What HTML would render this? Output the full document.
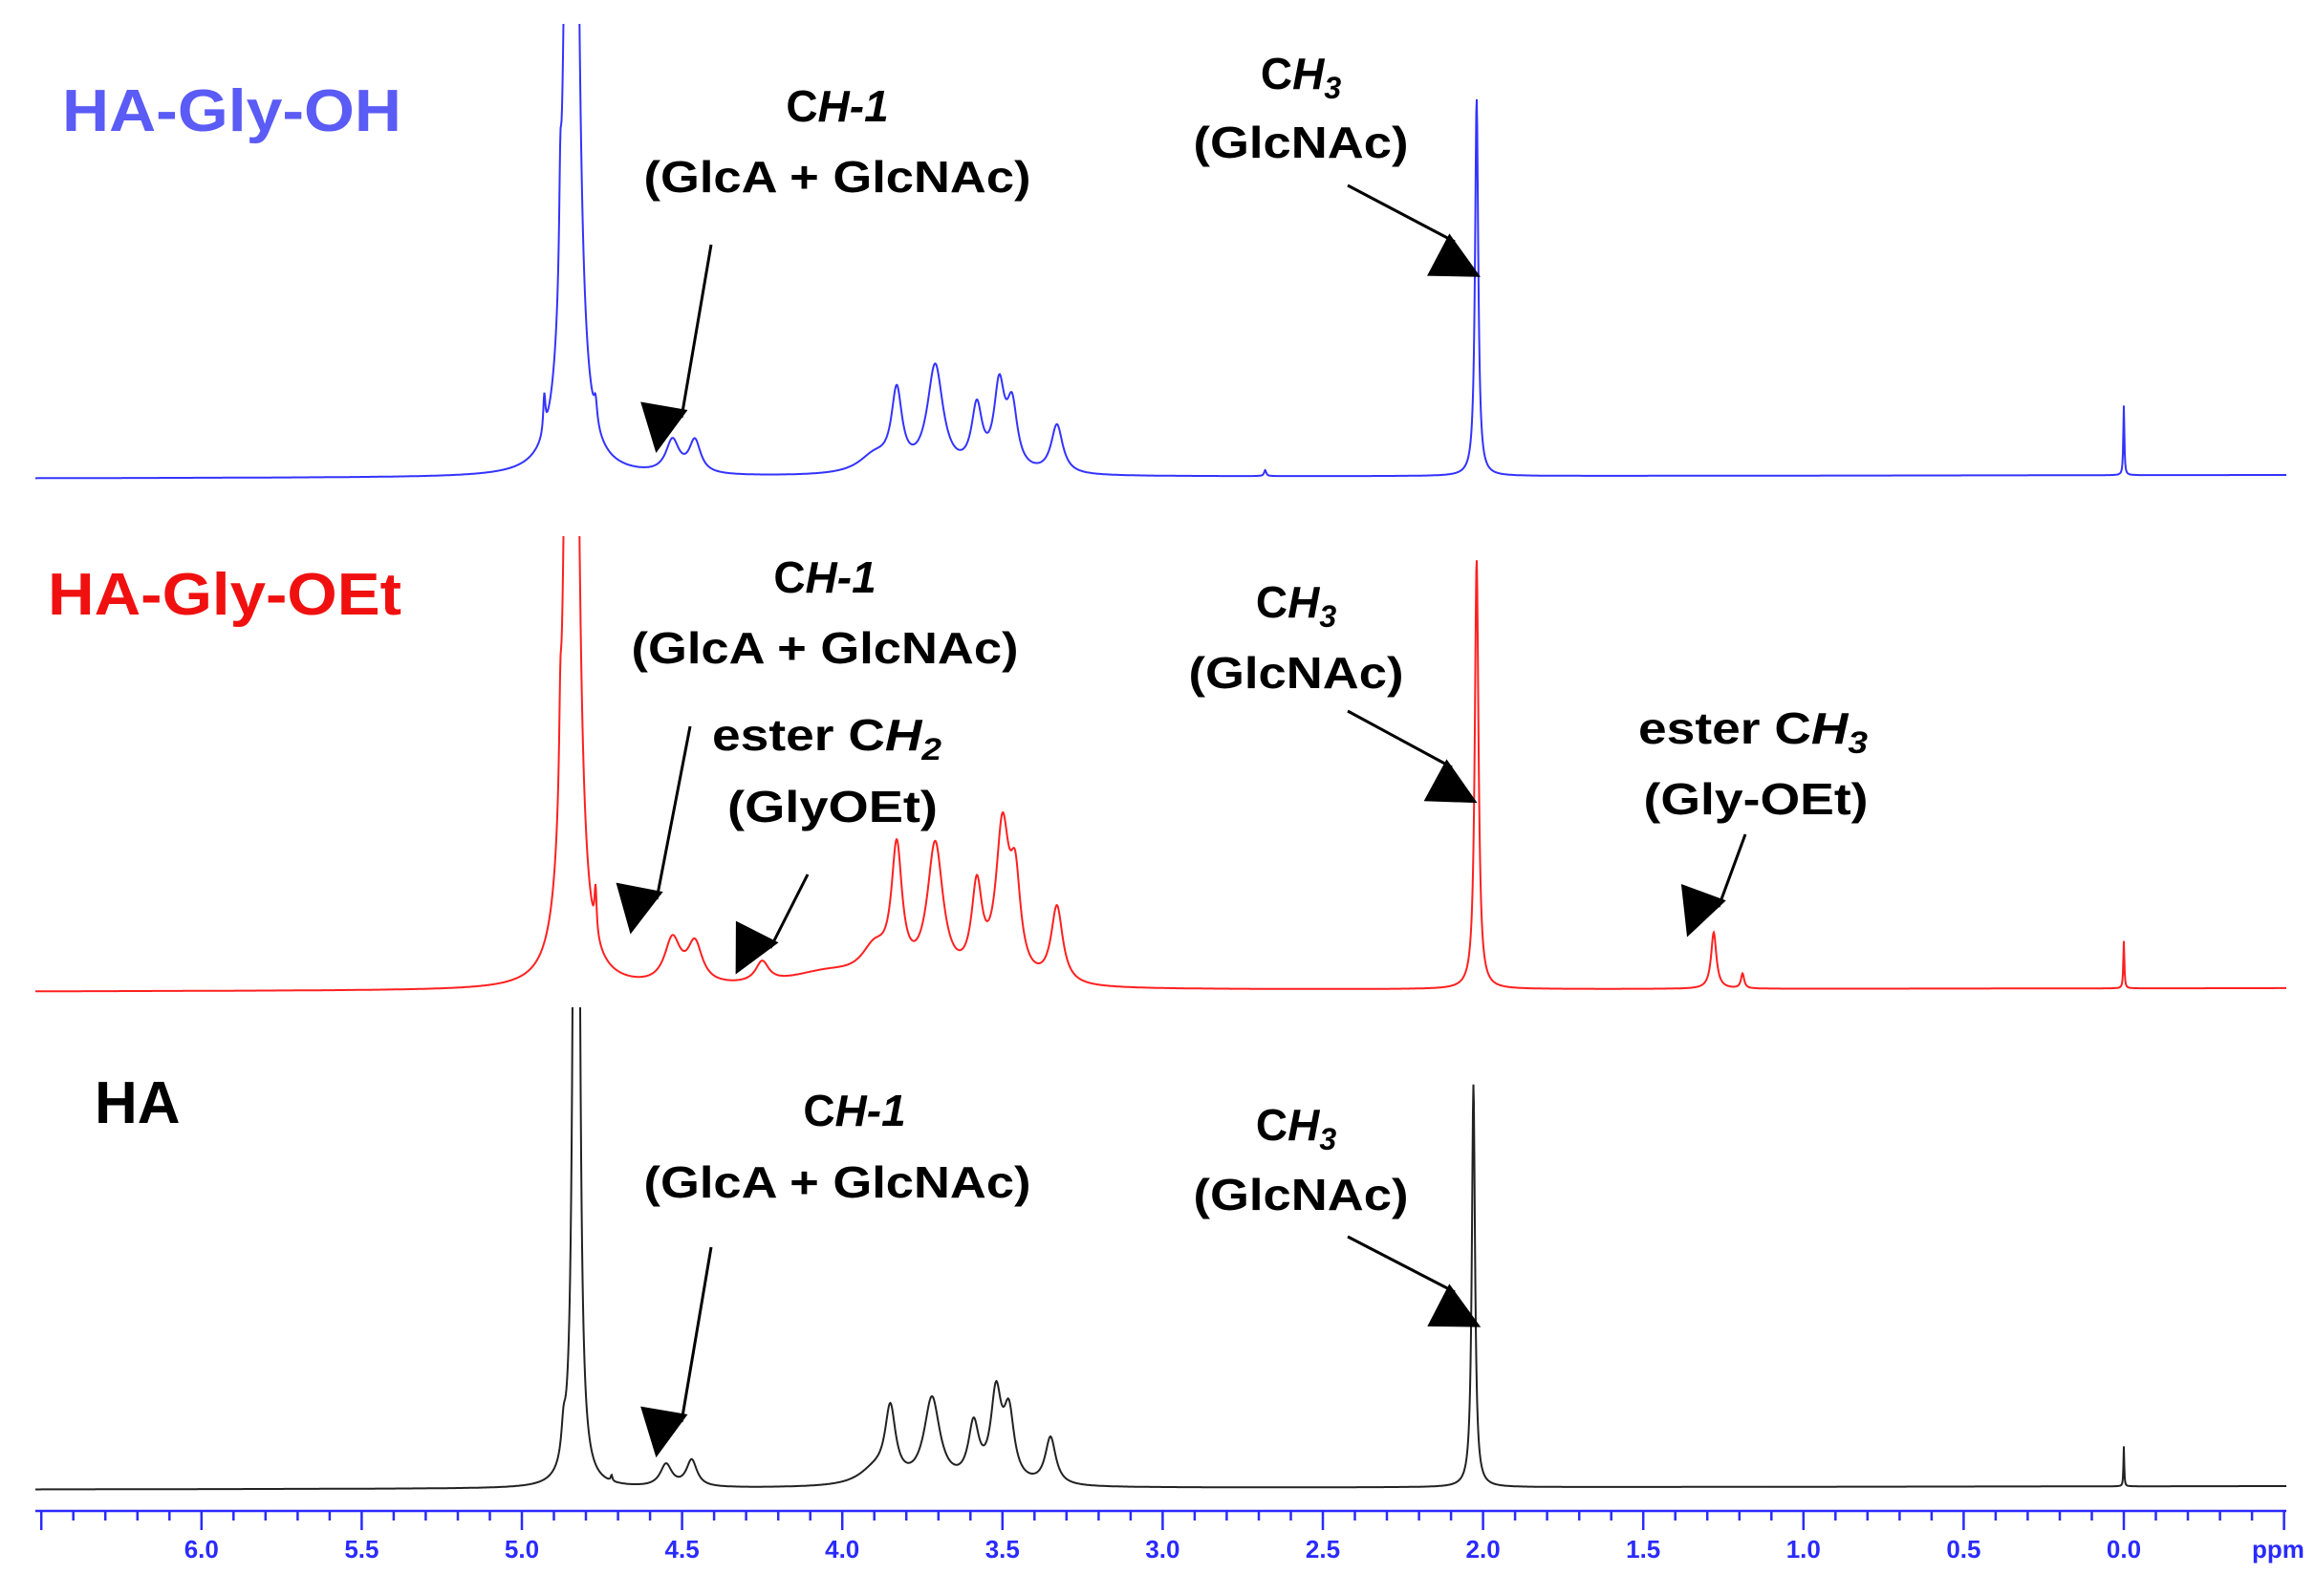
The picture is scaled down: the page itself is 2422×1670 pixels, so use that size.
<!DOCTYPE html>
<html><head><meta charset="utf-8"><style>
html,body{margin:0;padding:0;background:#fff;}
svg{display:block;}
text{font-family:"Liberation Sans",sans-serif;font-weight:bold;}
</style></head><body>
<svg id="chart" width="2422" height="1670" viewBox="0 0 2422 1670">
<defs>
<marker id="ah" markerWidth="10" markerHeight="10" refX="9" refY="5" orient="auto" markerUnits="userSpaceOnUse" viewBox="0 0 10 10" style="overflow:visible">
<path d="M0,0 L10,5 L0,10 z" fill="#000" transform="scale(5)"/>
</marker>
<clipPath id="clipBlue"><rect x="0" y="25" width="2422" height="540"/></clipPath>
<clipPath id="clipRed"><rect x="0" y="561" width="2422" height="500"/></clipPath>
<clipPath id="clipBlack"><rect x="0" y="1054" width="2422" height="520"/></clipPath>
</defs>
<g id="spectra"></g>
<g id="axis"></g>
<g id="labels">
<text x="65" y="137" font-size="62" fill="#5b5bf5" textLength="355" lengthAdjust="spacingAndGlyphs">HA-Gly-OH</text>
<text x="50" y="643" font-size="62" fill="#f01010" textLength="370" lengthAdjust="spacingAndGlyphs">HA-Gly-OEt</text>
<text x="99" y="1175" font-size="62" fill="#000">HA</text>
</g>
<g id="annot" fill="#000" font-size="46" text-anchor="middle"></g>
</svg>
<script>
// ppm axis mapping
const ppmTicks = ["6.0","5.5","5.0","4.5","4.0","3.5","3.0","2.5","2.0","1.5","1.0","0.5","0.0"];
const tickValues = [6.0,5.5,5.0,4.5,4.0,3.5,3.0,2.5,2.0,1.5,1.0,0.5,0.0];
function xs(p){ return 2222 - 335.2*p; }
const SC = 1.55;

// blue spectrum (HA-Gly-OH)
const bluePos = [4.93,4.88,4.845,4.77,4.53,4.46,3.90,3.83,3.71,3.58,3.51,3.47,3.33,2.68,2.02,0.0];
const blueH   = [25,60,1620,15,22,22,12,52,72,42,55,42,33,4,255,47];
const blueW   = [0.004,0.004,0.012,0.006,0.025,0.022,0.06,0.02,0.03,0.02,0.02,0.02,0.022,0.004,0.006,0.002];
// red spectrum (HA-Gly-OEt)
const redPos = [4.88,4.845,4.77,4.53,4.46,4.25,4.05,3.90,3.83,3.71,3.58,3.50,3.46,3.33,2.02,1.28,1.19,0.0];
const redH   = [50,1620,30,30,27,14,10,20,85,92,60,100,60,52,290,38,10,32];
const redW   = [0.004,0.012,0.004,0.03,0.028,0.025,0.15,0.05,0.02,0.03,0.02,0.025,0.02,0.022,0.007,0.01,0.006,0.002];
// black spectrum (HA)
const blackPos = [4.87,4.83,4.72,4.55,4.47,3.90,3.85,3.72,3.59,3.52,3.48,3.35,2.03,0.0];
const blackH   = [20,1616,4,15,18,10,48,58,38,58,45,32,272,27];
const blackW   = [0.008,0.006,0.003,0.022,0.02,0.06,0.02,0.03,0.02,0.02,0.02,0.02,0.006,0.0015];

const spectra = [
 {name:"spectrum-ha-gly-oh", pos:bluePos, h:blueH, w:blueW, base:497, color:"#3333ff", clip:"clipBlue"},
 {name:"spectrum-ha-gly-oet", pos:redPos, h:redH, w:redW, base:1034, color:"#ff2020", clip:"clipRed"},
 {name:"spectrum-ha", pos:blackPos, h:blackH, w:blackW, base:1555, color:"#222", clip:"clipBlack"}
];
const NS="http://www.w3.org/2000/svg";
const sg=document.getElementById('spectra');
spectra.forEach(s=>{
  let d="";
  for(let x=37;x<=2392;x+=0.5){
    const p=(2222-x)/335.2;
    let v=0;
    for(let i=0;i<s.pos.length;i++){const dx=(p-s.pos[i])/s.w[i]; v+=s.h[i]/(1+dx*dx);}
    const y=Math.max(-50, s.base - v*SC + (2392-x)*0.0015);
    d+=(d?"L":"M")+x.toFixed(1)+","+y.toFixed(1);
  }
  const path=document.createElementNS(NS,'path');
  
  
  path.setAttribute('d',d);
  path.setAttribute('fill','none');
  path.setAttribute('stroke',s.color);
  path.setAttribute('stroke-width','2');
  path.setAttribute('clip-path','url(#'+s.clip+')');
  sg.appendChild(path);
});

// axis
const ax=document.getElementById('axis');
let ad="M37,1581 L2392,1581";
for(let k=-5;k<=65;k++){
  const p=k/10; const x=xs(p);
  if(x<37||x>2393) continue;
  const major=(k%5===0);
  ad+=" M"+x.toFixed(1)+",1581 L"+x.toFixed(1)+","+(major?1601:1591);
}
const ap=document.createElementNS(NS,'path');


ap.setAttribute('d',ad);ap.setAttribute('stroke','#2a2aff');ap.setAttribute('stroke-width','2.5');ap.setAttribute('fill','none');
ax.appendChild(ap);
tickValues.forEach((v,i)=>{
  const t=document.createElementNS(NS,'text');
  
  
  t.setAttribute('x',xs(v));t.setAttribute('y',1630);t.setAttribute('text-anchor','middle');
  t.setAttribute('font-size','26');t.setAttribute('fill','#2a2aff');
  t.textContent=ppmTicks[i];ax.appendChild(t);
});
const pt=document.createElementNS(NS,'text');


pt.setAttribute('x',2356);pt.setAttribute('y',1630);pt.setAttribute('font-size','26');pt.setAttribute('fill','#2a2aff');
pt.textContent="ppm";ax.appendChild(pt);

// annotations
const an=document.getElementById('annot');
function label(x,y,html,name,len){
  const t=document.createElementNS(NS,'text');
  
  
  t.setAttribute('x',x);t.setAttribute('y',y);
  if(len){t.setAttribute('textLength',len);t.setAttribute('lengthAdjust','spacingAndGlyphs');}
  t.innerHTML=html;an.appendChild(t);
}
function arrow(x1,y1,x2,y2,name){
  const l=document.createElementNS(NS,'line');
  
  
  l.setAttribute('x1',x1);l.setAttribute('y1',y1);l.setAttribute('x2',x2);l.setAttribute('y2',y2);
  l.setAttribute('stroke','#000');l.setAttribute('stroke-width','3');l.setAttribute('marker-end','url(#ah)');
  an.appendChild(l);
}
const CH1='C<tspan font-style="italic">H-1</tspan>';
const CH3='C<tspan font-style="italic">H</tspan><tspan font-style="italic" font-size="32" dy="10">3</tspan>';
const CH2='C<tspan font-style="italic">H</tspan><tspan font-style="italic" font-size="32" dy="10">2</tspan>';
// blue
label(876,127,CH1,'blue-ch1-label');
label(876,201,'(GlcA + GlcNAc)','blue-glca-label',405);
arrow(744,256,713,437,'blue-ch1-arrow');
label(1361,93,CH3,'blue-ch3-label');
label(1361,165,'(GlcNAc)','blue-glcnac-label',225);
arrow(1410,194,1522,253,'blue-ch3-arrow');
// red
label(863,620,CH1,'red-ch1-label');
label(863,694,'(GlcA + GlcNAc)','red-glca-label',405);
arrow(722,760,687,941,'red-ch1-arrow');
label(865,785,'ester '+CH2,'red-ester-ch2-label',240);
label(871,860,'(GlyOEt)','red-glyoet-label',220);
arrow(845,915,806,992,'red-ester-ch2-arrow');
label(1356,646,CH3,'red-ch3-label');
label(1356,720,'(GlcNAc)','red-glcnac-label',225);
arrow(1410,744,1519,803,'red-ch3-arrow');
label(1834,778,'ester '+CH3,'red-ester-ch3-label',240);
label(1837,852,'(Gly-OEt)','red-gly-oet-label',235);
arrow(1826,873,1798,949,'red-ester-ch3-arrow');
// black
label(894,1178,CH1,'black-ch1-label');
label(876,1253,'(GlcA + GlcNAc)','black-glca-label',405);
arrow(744,1305,713,1488,'black-ch1-arrow');
label(1356,1193,CH3,'black-ch3-label');
label(1361,1266,'(GlcNAc)','black-glcnac-label',225);
arrow(1410,1294,1522,1352,'black-ch3-arrow');
</script>
</body></html>
